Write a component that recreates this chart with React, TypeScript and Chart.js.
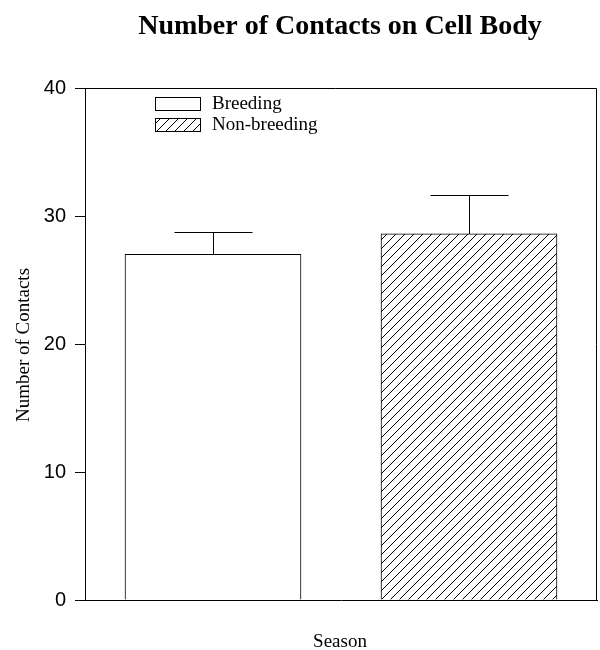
import React, { useEffect, useRef } from "react";
import { Chart, registerables } from "chart.js";

Chart.register(...registerables);

const chartTitle = "Number of Contacts on Cell Body";
const yAxisTitle = "Number of Contacts";
const xAxisTitle = "Season";
const categories = ["Breeding", "Non-breeding"];
const means = [27.0, 28.6];
const upperErrors = [1.75, 3.05];
const yTicks = [0, 10, 20, 30, 40];

const SERIF = "'Liberation Serif', 'Times New Roman', serif";

function makeHatch(): CanvasPattern | string {
  const size = 9;
  const c = document.createElement("canvas");
  c.width = size;
  c.height = size;
  const g = c.getContext("2d");
  if (!g) return "#fff";
  g.fillStyle = "#fff";
  g.fillRect(0, 0, size, size);
  g.strokeStyle = "#000";
  g.lineWidth = 1;
  g.beginPath();
  g.moveTo(-1, size + 1);
  g.lineTo(size + 1, -1);
  g.moveTo(-1, 1);
  g.lineTo(1, -1);
  g.moveTo(size - 1, size + 1);
  g.lineTo(size + 1, size - 1);
  g.stroke();
  const p = g.createPattern(c, "repeat");
  return p || "#fff";
}

export default function App() {
  const ref = useRef<HTMLCanvasElement>(null);
  useEffect(() => {
    if (!ref.current) return;
    const hatch = makeHatch();
    const fills = ["#ffffff", hatch];

    const decor = {
      id: "decor",
      afterDatasetsDraw(chart: any) {
        const ctx = chart.ctx;
        const area = chart.chartArea;
        const y = chart.scales.y;
        const meta = chart.getDatasetMeta(0);
        ctx.save();
        ctx.strokeStyle = "#000";
        ctx.lineWidth = 1;
        // error bars (upper only)
        meta.data.forEach((bar: any, i: number) => {
          const x = Math.round(bar.x) + 0.5;
          const top = y.getPixelForValue(means[i]);
          const cap = Math.round(y.getPixelForValue(means[i] + upperErrors[i])) + 0.5;
          ctx.beginPath();
          ctx.moveTo(x, top);
          ctx.lineTo(x, cap);
          ctx.moveTo(x - 39, cap);
          ctx.lineTo(x + 39, cap);
          ctx.stroke();
        });
        // top and right frame
        const t = Math.round(area.top) + 0.5;
        const r = Math.round(area.right) - 0.5;
        const b = Math.round(area.bottom) + 0.5;
        ctx.beginPath();
        ctx.moveTo(area.left - 10, t);
        ctx.lineTo(r, t);
        ctx.lineTo(r, b);
        ctx.stroke();
        // title
        ctx.fillStyle = "#000";
        ctx.textAlign = "center";
        ctx.textBaseline = "alphabetic";
        ctx.font = "bold 28px " + SERIF;
        ctx.fillText(chartTitle, 340, 34);
        // x title
        ctx.font = "19px " + SERIF;
        ctx.fillText(xAxisTitle, 340, 647);
        // y title
        ctx.save();
        ctx.translate(29, 345);
        ctx.rotate(-Math.PI / 2);
        ctx.fillText(yAxisTitle, 0, 0);
        ctx.restore();
        // legend
        const boxes = [
          { y0: 97, label: categories[0], fill: fills[0] },
          { y0: 118, label: categories[1], fill: fills[1] },
        ];
        ctx.font = "19px " + SERIF;
        ctx.textAlign = "left";
        boxes.forEach((bx) => {
          ctx.fillStyle = bx.fill as any;
          ctx.fillRect(155, bx.y0, 45, 13);
          ctx.strokeStyle = "#000";
          ctx.strokeRect(155.5, bx.y0 + 0.5, 45, 13);
          ctx.fillStyle = "#000";
          ctx.fillText(bx.label, 212, bx.y0 + 12);
        });
        ctx.restore();
      },
    };

    const chart = new Chart(ref.current, {
      type: "bar",
      data: {
        labels: categories,
        datasets: [
          {
            data: means,
            backgroundColor: fills as any,
            borderColor: "#000",
            borderWidth: 1,
            barThickness: 176,
            categoryPercentage: 1,
          },
        ],
      },
      options: {
        responsive: false,
        animation: false,
        layout: { padding: { top: 88, right: 3, left: 0, bottom: 0 } },
        plugins: {
          legend: { display: false },
          title: { display: false },
          tooltip: { enabled: false },
        },
        scales: {
          x: {
            ticks: { display: false },
            grid: { display: false },
            border: { display: true, color: "#000", width: 1 },
            afterFit(scale: any) {
              scale.height = 50;
            },
          },
          y: {
            min: 0,
            max: 40,
            afterBuildTicks(scale: any) {
              scale.ticks = yTicks.map((v) => ({ value: v }));
            },
            ticks: {
              color: "#000",
              padding: 9,
              font: { family: "'Liberation Sans', Arial, sans-serif", size: 20 },
            },
            grid: {
              display: true,
              drawOnChartArea: false,
              drawTicks: true,
              tickLength: 10,
              color: "#000",
            },
            border: { display: true, color: "#000", width: 1 },
            afterFit(scale: any) {
              scale.width = 85;
            },
          },
        },
      },
      plugins: [decor],
    });
    return () => chart.destroy();
  }, []);

  return (
    <div style={{ position: "absolute", left: 0, top: 0, width: 600, height: 650, background: "#fff" }}>
      <canvas ref={ref} width={600} height={650} />
    </div>
  );
}
